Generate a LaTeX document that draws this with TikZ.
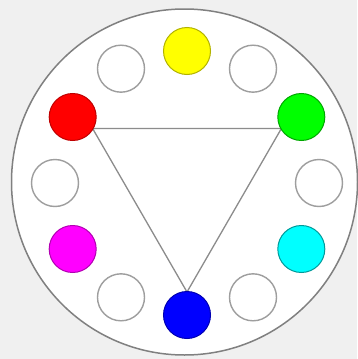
\documentclass[tikz,border=0pt]{standalone}
\usetikzlibrary{calc}
\definecolor{cyanrgb}{RGB}{0,255,255}
\definecolor{magrgb}{RGB}{255,0,255}
\definecolor{yelrgb}{RGB}{255,255,0}
\definecolor{grergb}{RGB}{0,255,0}
\definecolor{redrgb}{RGB}{255,0,0}
\definecolor{blurgb}{RGB}{0,0,255}
\begin{document}
\begin{tikzpicture}[x=1pt,y=-1pt,
  dot/.style={circle,minimum size=47pt,inner sep=0pt,line width=1pt},
  plain/.style={dot,draw=black!38,fill=white,line width=1.4pt},
  edge/.style={draw=black!45,line width=1.3pt}]
\fill[black!6] (0,0) rectangle (357,359);
\useasboundingbox (0,0) rectangle (357,359);
\node[circle,minimum size=346pt,inner sep=0pt,draw=black!50,line width=1.5pt,fill=white] (big) at (184.5,182) {};
\coordinate (c) at (187,183);
% triangle vertices on inner edges of the circles
\coordinate (tr) at ($(c)+(210:109)$);
\coordinate (tg) at ($(c)+(-30:109)$);
\coordinate (tb) at ($(c)+(90:109)$);
\draw[edge] (tr) -- (tg) -- (tb) -- cycle;
% colored circles
\node[dot,fill=yelrgb,draw=yelrgb!70!black] (yel) at ($(c)+(-90:132)$) {};
\node[dot,fill=grergb,draw=grergb!65!black] (gre) at ($(c)+(-30:132)$) {};
\node[dot,fill=cyanrgb,draw=cyanrgb!60!black] (cya) at ($(c)+(30:132)$) {};
\node[dot,fill=blurgb,draw=blurgb!70!black] (blu) at ($(c)+(90:132)$) {};
\node[dot,fill=magrgb,draw=magrgb!70!black] (mag) at ($(c)+(150:132)$) {};
\node[dot,fill=redrgb,draw=redrgb!75!black] (re) at ($(c)+(210:132)$) {};
% white circles
\node[plain] (w1) at ($(c)+(-60:132)$) {};
\node[plain] (w2) at ($(c)+(0:132)$) {};
\node[plain] (w3) at ($(c)+(60:132)$) {};
\node[plain] (w4) at ($(c)+(120:132)$) {};
\node[plain] (w5) at ($(c)+(180:132)$) {};
\node[plain] (w6) at ($(c)+(240:132)$) {};
\end{tikzpicture}
\end{document}
